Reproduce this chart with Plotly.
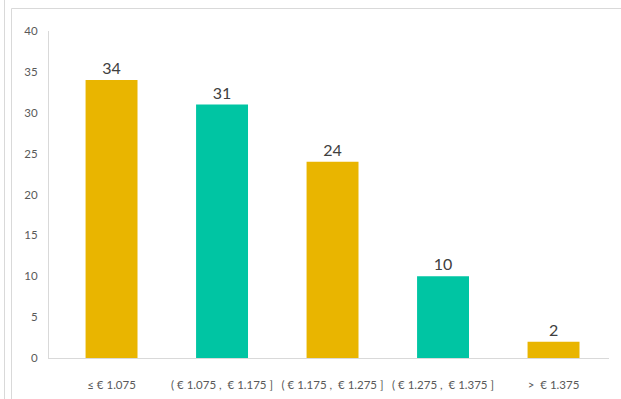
import plotly.graph_objects as go

categories = ["≤ € 1.075", "( € 1.075 ,  € 1.175 ]", "( € 1.175 ,  € 1.275 ]", "( € 1.275 ,  € 1.375 ]", ">  € 1.375"]
values = [34, 31, 24, 10, 2]
bar_colors = ["#E9B500", "#00C5A3", "#E9B500", "#00C5A3", "#E9B500"]
y_ticks = [0, 5, 10, 15, 20, 25, 30, 35, 40]

L, R, T, B = 49, 12, 31, 41
W, H = 621, 399
pw, ph = W - L - R, H - T - B

def px(x):
    return (x - L) / pw

def py(y):
    return (H - B - y) / ph

fig = go.Figure(go.Bar(
    x=list(range(len(categories))),
    y=values,
    marker=dict(color=bar_colors, line=dict(width=0)),
    width=0.47,
    text=[str(v) for v in values],
    textposition="outside",
    textfont=dict(size=16, color="#404040", family="Lato, Open Sans, sans-serif"),
    cliponaxis=False,
))

fig.update_layout(
    template="none",
    width=W, height=H,
    margin=dict(l=L, r=R, t=T, b=B, pad=0, autoexpand=False),
    paper_bgcolor="white", plot_bgcolor="white",
    showlegend=False,
    font=dict(family="Lato, Open Sans, sans-serif", size=11.5, color="#595959"),
    xaxis=dict(
        tickmode="array", tickvals=list(range(len(categories))), ticktext=categories,
        range=[-0.566, 4.502], showgrid=False, zeroline=False, automargin=False,
        showline=True, linecolor="#D9D9D9", linewidth=1,
        ticks="", ticklabelstandoff=16, tickfont=dict(size=11.5, color="#595959"),
    ),
    yaxis=dict(
        range=[0, 40], tickvals=y_ticks, showgrid=False, zeroline=False, automargin=False,
        showline=True, linecolor="#D9D9D9", linewidth=1,
        ticks="", ticklabelstandoff=8, tickfont=dict(size=11.5, color="#595959"),
    ),
    shapes=[
        dict(type="line", xref="paper", yref="paper", x0=px(4.5), x1=px(4.5), y0=py(0), y1=py(H + 5),
             line=dict(color="#D9D9D9", width=1)),
        dict(type="line", xref="paper", yref="paper", x0=px(11.5), x1=px(11.5), y0=py(8.5), y1=py(H + 5),
             line=dict(color="#D9D9D9", width=1)),
        dict(type="line", xref="paper", yref="paper", x0=px(11.5), x1=px(W + 5), y0=py(8.5), y1=py(8.5),
             line=dict(color="#D9D9D9", width=1)),
    ],
)

fig.write_html("out.html", config={"displayModeBar": False},
               post_script="document.body.style.margin='0';document.body.style.padding='0';")
